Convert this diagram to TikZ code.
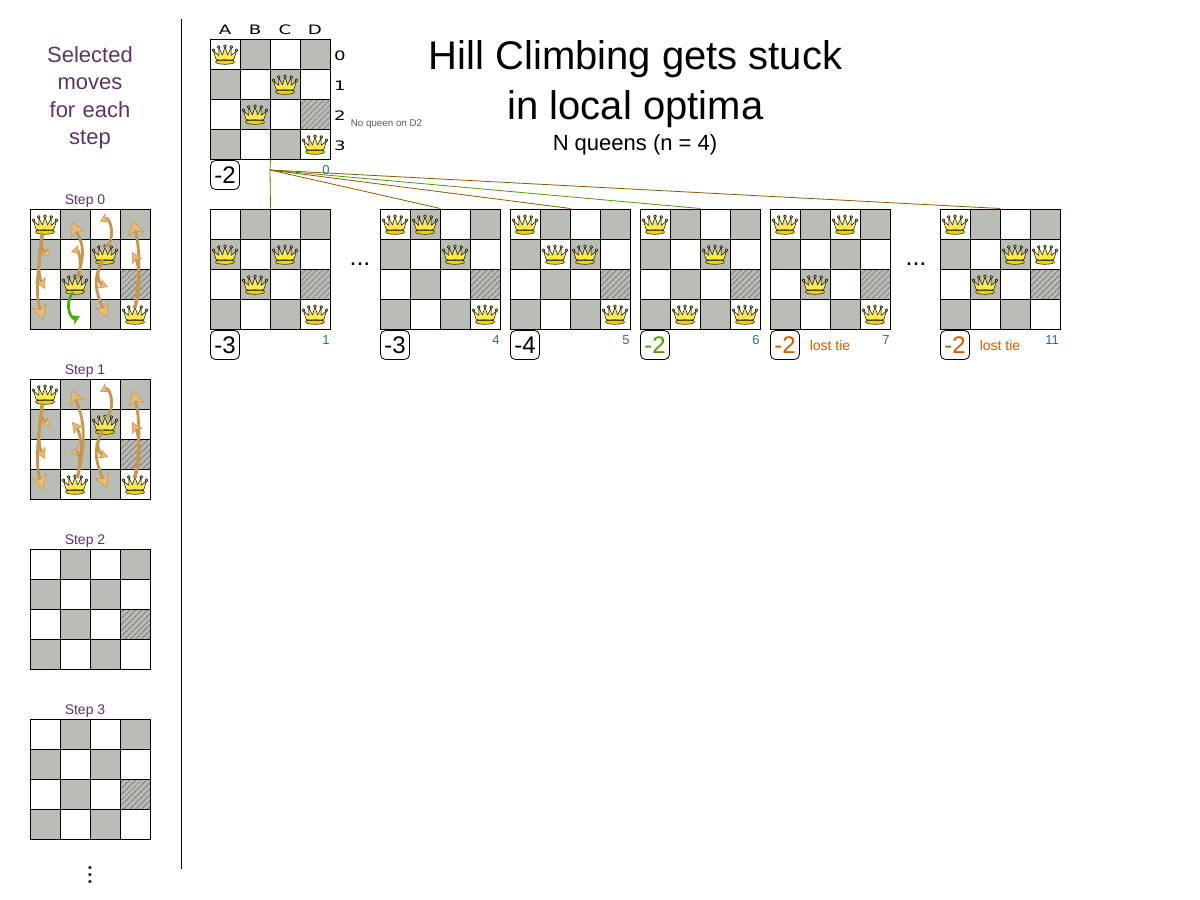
\documentclass[tikz,border=0pt]{standalone}
\usepackage{fontspec}
\setmainfont{Liberation Sans}
\newfontfamily\widefont[FakeStretch=1.4]{DejaVu Sans}
\usetikzlibrary{arrows.meta,patterns.meta}

\definecolor{dark square}{HTML}{BABDB6}
\definecolor{hatch line}{HTML}{8C8E89}
\definecolor{step purple}{HTML}{5C3566}
\definecolor{index blue}{HTML}{3465A4}
\definecolor{good green}{HTML}{4E9A06}
\definecolor{tie orange}{HTML}{CE5C00}
\definecolor{line brown}{HTML}{8F5902}
\definecolor{move tan}{HTML}{C8974F}
\definecolor{move fill}{HTML}{EDBB72}
\definecolor{crown}{HTML}{FCE94F}
\definecolor{crown base}{HTML}{EDD400}

\newcommand{\txt}[2][0]{\fontsize{#2}{#1}\selectfont}

% one 4x4 board, cells are named name-A0 ... name-D3
\newcommand{\board}[3]{
  \foreach \col [count=\i from 0] in {A,B,C,D}
    \foreach \row in {0,...,3} {
      \def\kind{lightcell}
      \ifodd\numexpr\i+\row\relax\def\kind{darkcell}\fi
      \node[\kind] (#1-\col\row) at ({#2+15+30*\i},{#3+15+30*\row}) {};
    }
  \node[lightcell,fill=dark square] (#1-base) at (#1-D2) {};
  \node[hatchcell] (#1-hatch) at (#1-D2) {};
}
\newcommand{\queens}[2]{
  \edef\qlist{#2}
  \foreach \cell in \qlist \pic at (#1-\cell) {queen};
}

\begin{document}
\begin{tikzpicture}
[x=1pt,y=-1pt,>=stealth,
  lightcell/.style={draw,line width=1pt,minimum size=30pt,inner sep=0pt,fill=white},
  darkcell/.style={lightcell,fill=dark square},
  hatchcell/.style={draw,line width=1pt,minimum size=30pt,inner sep=0pt,
                    pattern={Lines[angle=45,distance=4pt,line width=1.6pt]},pattern color=hatch line},
  score/.style={draw,rounded corners=5pt,line width=.8pt,minimum size=29pt,inner sep=0pt,
                fill=white,font=\txt{24}},
  index/.style={text=index blue,font=\txt{13}},
  steplabel/.style={text=step purple,font=\txt{14}},
  tie/.style={text=tie orange,font=\txt{14}},
  axis/.style={font=\widefont\txt{13}},
  dots/.style={font=\txt{25}},
  treeline/.style={line brown,line width=.8pt},
  bestline/.style={good green,line width=.8pt},
  moveline/.style={move tan,line width=2.8pt,-{Stealth[length=#1,width=1.1*#1,inset=.25*#1,fill=move fill,line width=.6pt]}},
  moveline/.default=12pt,
  bestmove/.style={good green!80!green,line width=2.6pt,-{Stealth[length=9pt,width=10pt,fill=good green!70!green,line width=.5pt]}},
  queen/.pic={
    \begin{scope}[draw=black,line width=.45pt,fill=crown,line join=round]
      \foreach \bx/\by in {-11.5/-3.7,-6.2/-7,0/-7.7,6.2/-7,11.5/-3.7}
        \filldraw (\bx,\by) circle (1.5pt);
      \filldraw (-8.5,6.5) -- (-11.5,-3) -- (-6,1.5) -- (-6.2,-6.5) -- (-2.6,1)
        -- (0,-7) -- (2.6,1) -- (6.2,-6.5) -- (6,1.5) -- (11.5,-3) -- (8.5,6.5) -- cycle;
      \filldraw[fill=crown base] (0,8) ellipse (9.5pt and 2.3pt);
      \draw (-8.5,5.5) .. controls (-3,7) and (3,7) .. (8.5,5.5);
    \end{scope}
  }]

  \path[fill=white,use as bounding box] (0,0) rectangle (1200,900);

  % left column
  \node[text=step purple,font={\txt[27.5]{22}},align=center,text width=120pt] (selected) at (90,98)
    {Selected\\moves\\for each\\step};
  \coordinate (ruletop) at (181,19);
  \coordinate (rulebottom) at (181,869);
  \draw[line width=.8pt] (ruletop) -- (rulebottom);

  \foreach \s/\top [count=\n from 0] in {s0/209,s1/379,s2/549,s3/719} {
    \board{\s}{30}{\top}
    \node[steplabel] (\s-label) at (85,{\top-8}) {Step \n};
  }
  \node[dots,rotate=90] (more) at (90,875) {...};

  \queens{s0}{A0,C1,B2,D3}
  \queens{s1}{A0,C1,B3,D3}

  % moves that stay the same in step 0 and step 1
  \foreach \s in {s0,s1} {
    \draw[moveline=9pt] ([shift={(-3,9)}]\s-A0.center) .. controls +(-2,12) and +(-8,-8) .. ([shift={(5,3)}]\s-A1.center);
    \draw[moveline=11pt] ([shift={(-2,9)}]\s-A0.center) .. controls +(-5,25) and +(-7,-14) .. ([shift={(0,5)}]\s-A2.center);
    \draw[moveline=15pt] ([shift={(-3,9)}]\s-A0.center) .. controls +(-4,40) and +(-8,-28) .. ([shift={(-2,6)}]\s-A3.center);
    \draw[moveline=9pt] ([shift={(0,-6)}]\s-C1.center) .. controls +(12,-8) and +(10,-6) .. ([shift={(-5,-2)}]\s-C0.center);
    \draw[moveline=9pt] ([shift={(-2,6)}]\s-C1.center) .. controls +(-8,10) and +(-10,-4) .. ([shift={(3,3)}]\s-C2.center);
    \draw[moveline=14pt] ([shift={(-2,6)}]\s-C1.center) .. controls +(-10,18) and +(-12,-28) .. ([shift={(2,4)}]\s-C3.center);
    \draw[moveline=15pt] ([shift={(0,-6)}]\s-D3.center) .. controls +(4,-30) and +(8,35) .. ([shift={(-2,-4)}]\s-D0.center);
    \draw[moveline=11pt] ([shift={(0,-6)}]\s-D3.center) .. controls +(6,-20) and +(8,15) .. ([shift={(-3,-2)}]\s-D1.center);
  }
  % queen B in step 0
  \draw[moveline=14pt] ([shift={(2,-6)}]s0-B2.center) .. controls +(8,-25) and +(12,25) .. ([shift={(-3,-2)}]s0-B0.center);
  \draw[moveline=9pt] ([shift={(2,-6)}]s0-B2.center) .. controls +(6,-10) and +(8,-2) .. ([shift={(-4,-2)}]s0-B1.center);
  \draw[bestmove] ([shift={(-2,8)}]s0-B2.center) .. controls +(-10,14) and +(-8,4) .. ([shift={(5,2)}]s0-B3.center);
  % queen B in step 1
  \draw[moveline=14pt] ([shift={(2,-6)}]s1-B3.center) .. controls +(10,-40) and +(12,30) .. ([shift={(-3,-4)}]s1-B0.center);
  \draw[moveline=11pt] ([shift={(2,-6)}]s1-B3.center) .. controls +(8,-25) and +(8,10) .. ([shift={(-3,-2)}]s1-B1.center);
  \draw[moveline=9pt] ([shift={(2,-6)}]s1-B3.center) .. controls +(4,-10) and +(10,-2) .. ([shift={(-5,-1)}]s1-B2.center);

  % current solution
  \board{root}{210}{39}
  \queens{root}{A0,C1,B2,D3}
  \foreach \col/\x in {A/225,B/255,C/285,D/315}
    \node[axis] (col\col) at (\x,30) {\col};
  \foreach \row/\y in {0/56,1/86,2/116,3/146}
    \node[axis] (row\row) at (340,\y) {\row};
  \node[text=black!65,font=\txt{9.8}] (rootnote) at (386.5,124.5) {No queen on D2};
  \node[score] (rootscore) at (225,175) {-2};

  \node[font={\txt[50]{40}},align=center] (title) at (635.5,84)
    {Hill Climbing gets stuck\\in local optima};
  \node[font=\txt{22}] (subtitle) at (635,145) {N queens (n = 4)};

  % evaluated moves
  \foreach \b/\x/\q in {m1/210/{A1,C1,B2,D3},m4/380/{A0,B0,C1,D3},m5/510/{A0,B1,C1,D3},
                        m6/640/{A0,C1,B3,D3},m7/770/{A0,C0,B2,D3},m11/940/{A0,C1,D1,B2}} {
    \board{\b}{\x}{209}
    \queens{\b}{\q}
  }
  \foreach \b/\x/\v in {m1/225/-3,m4/395/-3,m5/525/-4}
    \node[score] (\b-score) at (\x,345) {\v};
  \node[score,text=good green] (m6-score) at (655,345) {-2};
  \node[score,text=tie orange] (m7-score) at (785,345) {-2};
  \node[score,text=tie orange] (m11-score) at (955,345) {-2};
  \node[tie] (m7-tie) at (830,345.5) {lost tie};
  \node[tie] (m11-tie) at (1000,345.5) {lost tie};

  \foreach \b/\x/\v in {m1/326/1,m4/496/4,m5/626/5,m6/756/6,m7/886/7,m11/1052/11}
    \node[index] (\b-index) at (\x,340) {\v};
  \node[dots] (gapa) at (360,264) {...};
  \node[dots] (gapb) at (916,264) {...};

  % the lines to the moves
  \coordinate (fork) at (270,170);
  \draw[bestline] (root-B3.south east) -- (fork);
  \draw[treeline] (fork) -- (m1-B0.north east);
  \draw[treeline] (fork) -- (m4-B0.north east);
  \draw[treeline] (fork) -- (m5-B0.north east);
  \draw[bestline] (fork) -- (m6-B0.north east);
  \draw[treeline] (fork) -- (m11-B0.north east);
  \node[index] (rootindex) at (326,170) {0};
\end{tikzpicture}
\end{document}
